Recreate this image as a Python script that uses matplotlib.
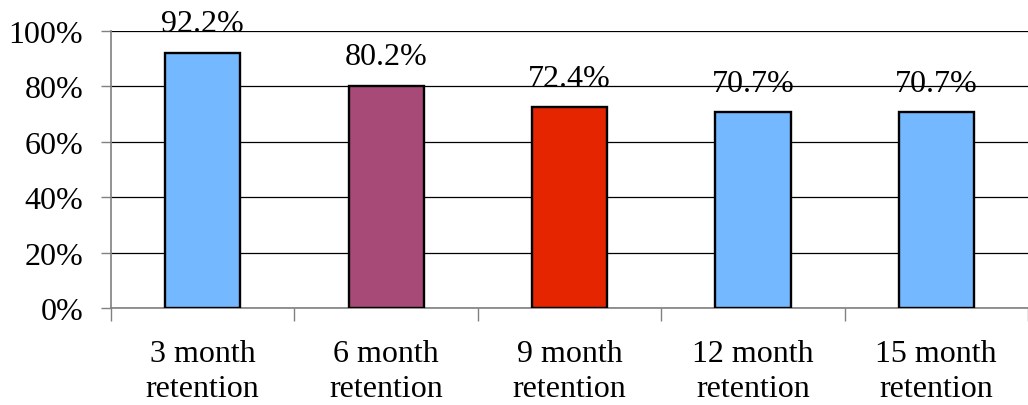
import numpy as np
import matplotlib.pyplot as plt

# Retention rates by follow-up period
categories = ['3 month\nretention', '6 month\nretention', '9 month\nretention',
              '12 month\nretention', '15 month\nretention']
retention = [92.2, 80.2, 72.4, 70.7, 70.7]
bar_colors = ['#74B8FF', '#A84A78', '#E42500', '#74B8FF', '#74B8FF']

plt.rcParams['font.family'] = ['Liberation Serif', 'DejaVu Serif']
FS = 23

fig = plt.figure(figsize=(10.28, 4.06), dpi=100)
ax = fig.add_axes([0.108, 0.239, 0.892, 0.682])

x = np.arange(len(categories))
bars = ax.bar(x, retention, width=0.41, color=bar_colors,
              edgecolor='black', linewidth=1.7, zorder=3)

for xi, val in zip(x, retention):
    ax.annotate(f'{val:.1f}%', (xi, val), xytext=(0, 15.5), textcoords='offset points',
                ha='center', va='baseline', fontsize=FS, color='black', zorder=4)

ax.set_xlim(-0.5, len(categories) - 0.5)
ax.set_ylim(0, 100)
ax.set_yticks(np.arange(0, 101, 20))
ax.set_yticklabels([f'{v}%' for v in range(0, 101, 20)])
ax.yaxis.grid(True, color='black', linewidth=0.9, zorder=0)

# category labels centered, tick marks between categories
ax.set_xticks(x)
ax.set_xticklabels(categories, linespacing=1.3)
ax.set_xticks(np.arange(-0.5, len(categories)), minor=True)
ax.tick_params(axis='x', which='major', length=0, pad=22, labelsize=FS)
ax.tick_params(axis='x', which='minor', length=9, width=1, color='#808080', direction='out')
ax.tick_params(axis='y', length=7, width=1, color='#808080', labelsize=FS, pad=13)

for side in ['top', 'right']:
    ax.spines[side].set_visible(False)
for side in ['left', 'bottom']:
    ax.spines[side].set_color('#808080')
    ax.spines[side].set_linewidth(1.2)

fig.savefig('out.png', dpi=100, facecolor='white')
